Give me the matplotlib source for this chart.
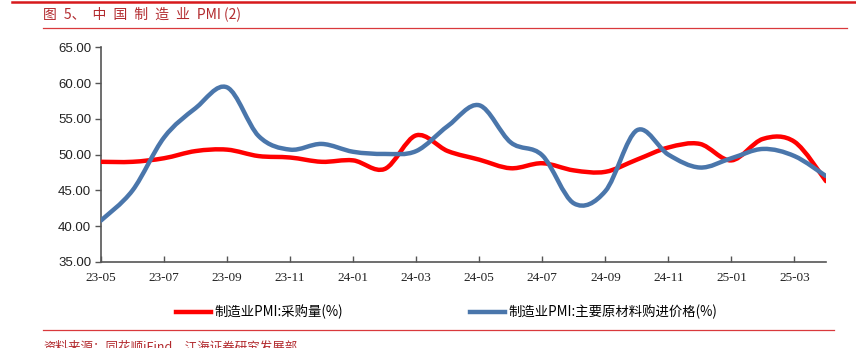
import matplotlib
matplotlib.use("Agg")
import matplotlib.pyplot as plt
from matplotlib.path import Path
from matplotlib.patches import PathPatch
from matplotlib.lines import Line2D

months = ["23-05", "23-06", "23-07", "23-08", "23-09", "23-10", "23-11", "23-12",
          "24-01", "24-02", "24-03", "24-04", "24-05", "24-06", "24-07", "24-08",
          "24-09", "24-10", "24-11", "24-12", "25-01", "25-02", "25-03", "25-04"]
purchase_qty = [49.0, 49.0, 49.5, 50.5, 50.7, 49.8, 49.6, 49.0,
                49.2, 48.0, 52.7, 50.5, 49.3, 48.1, 48.8, 47.8,
                47.6, 49.3, 51.0, 51.5, 49.2, 52.2, 51.8, 46.3]
input_price = [40.8, 45.0, 52.4, 56.5, 59.4, 52.6, 50.7, 51.5,
               50.4, 50.1, 50.5, 54.0, 56.9, 51.7, 49.9, 43.2,
               44.9, 53.4, 50.0, 48.2, 49.5, 50.8, 49.8, 47.0]
series_names = ["制造业PMI:采购量(%)", "制造业PMI:主要原材料购进价格(%)"]
series_colors = ["#FF0000", "#4A76AB"]
yticks = [35, 40, 45, 50, 55, 60, 65]

W, H = 856, 348
fig = plt.figure(figsize=(W / 100, H / 100), dpi=100)
ax = fig.add_axes([101 / W, 1 - 262 / H, (826 - 101) / W, (262 - 47.3) / H])

def smooth_path(xs, ys):
    # Excel-style smoothed line: cubic Bezier segments through every data point
    n = len(xs)
    verts = [(xs[0], ys[0])]
    codes = [Path.MOVETO]
    for i in range(n - 1):
        x0, y0 = (xs[i - 1], ys[i - 1]) if i > 0 else (xs[i], ys[i])
        x1, y1 = xs[i], ys[i]
        x2, y2 = xs[i + 1], ys[i + 1]
        x3, y3 = (xs[i + 2], ys[i + 2]) if i + 2 < n else (x2, y2)
        c1 = (x1 + (x2 - x0) / 6, y1 + (y2 - y0) / 6)
        c2 = (x2 - (x3 - x1) / 6, y2 - (y3 - y1) / 6)
        verts += [c1, c2, (x2, y2)]
        codes += [Path.CURVE4] * 3
    return Path(verts, codes)

xs = list(range(len(months)))
for vals, color in zip([purchase_qty, input_price], series_colors):
    patch = PathPatch(smooth_path(xs, vals), facecolor="none", edgecolor=color,
                      lw=3.2, capstyle="round", joinstyle="round", zorder=3)
    ax.add_patch(patch)

ax.set_xlim(0, len(months) - 1)
ax.set_ylim(35, 65)
ax.set_yticks(yticks)
ax.set_yticklabels([f"{v:.2f}" for v in yticks], fontfamily="Liberation Sans", fontsize=9.5,
                   color="#222222")
ax.set_xticks(xs[::2])
ax.set_xticklabels(months[::2], fontfamily="Liberation Serif", fontsize=9.5, color="#222222")
for s in ["top", "right"]:
    ax.spines[s].set_visible(False)
for s in ["left", "bottom"]:
    ax.spines[s].set_color("#555555")
    ax.spines[s].set_linewidth(1.2)
ax.tick_params(axis="y", direction="out", length=4, width=1, color="#555555", pad=3)
ax.tick_params(axis="x", direction="in", length=4, width=1, color="#555555", pad=7)

# legends
cjk = ["Noto Sans CJK SC", "Liberation Serif"]
for name, color, xpos in zip(series_names, series_colors, [176, 470]):
    h = Line2D([], [], color=color, lw=3.2)
    fig.legend([h], [name], loc="center left", bbox_to_anchor=(xpos / W, 1 - 312 / H),
               frameon=False, handlelength=2.65, handletextpad=0.2, borderpad=0,
               borderaxespad=0, prop={"family": cjk, "size": 9.6})

# header / footer decoration
red_dark = "#B22A2E"
fig.add_artist(Line2D([12 / W, 1], [1 - 1.5 / H] * 2, color="#D7191C", lw=1.8))
fig.add_artist(Line2D([43 / W, 847 / W], [1 - 27.5 / H] * 2, color="#D9393C", lw=0.9))
fig.add_artist(Line2D([43 / W, 834 / W], [1 - 330 / H] * 2, color="#D9393C", lw=0.9))
fig.text(43 / W, 1 - 14 / H, "图\u20025、\u2002中\u2002国\u2002制\u2002造\u2002业\u2002PMI (2)",
         ha="left", va="center", fontsize=10, color=red_dark, fontfamily=cjk)
fig.text(43 / W, 1 - 341 / H, "资料来源：同花顺iFind，江海证券研究发展部", ha="left", va="top",
         fontsize=9, color=red_dark, fontfamily=cjk)

fig.savefig("out.png", dpi=100)
